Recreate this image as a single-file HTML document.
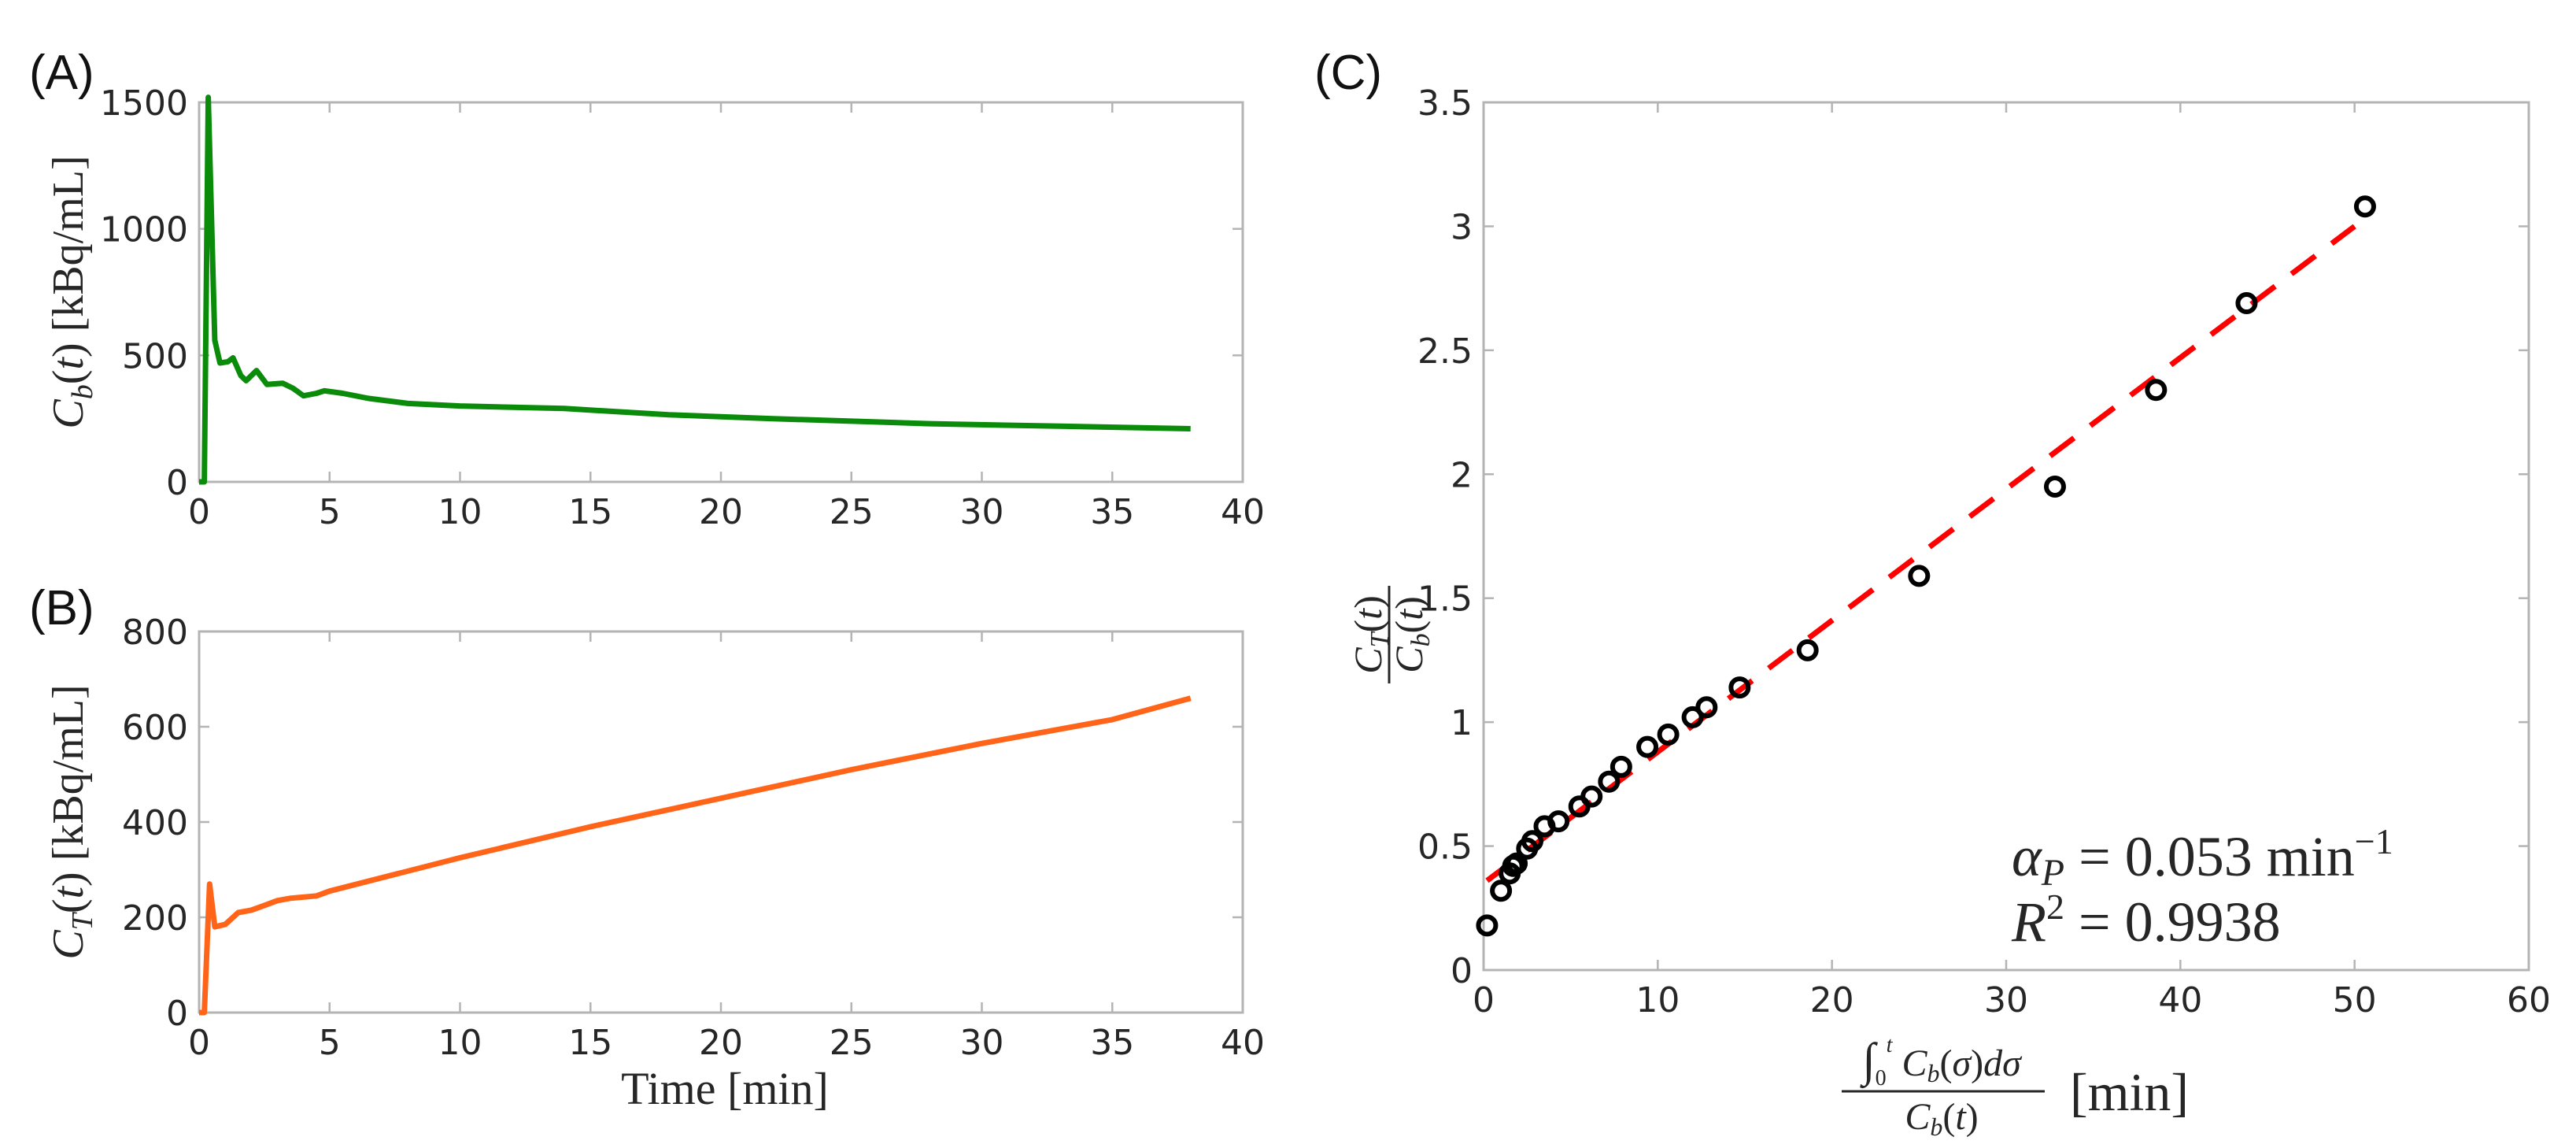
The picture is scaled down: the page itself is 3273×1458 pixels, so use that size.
<!DOCTYPE html>
<html><head><meta charset="utf-8"><style>
html,body{margin:0;padding:0;background:#fff;}
svg{display:block;}
.tick{font-family:"DejaVu Sans","Liberation Sans",sans-serif;font-size:44px;fill:#262626;}
.serif{font-family:"Liberation Serif","DejaVu Serif",serif;fill:#262626;}
.plab{font-family:"Liberation Sans",sans-serif;font-size:62px;fill:#111;}
</style></head><body>
<svg id="fig" width="3273" height="1458" viewBox="0 0 3273 1458" xmlns="http://www.w3.org/2000/svg">
<text class="plab" x="37" y="113">(A)</text>
<text class="plab" x="37" y="793">(B)</text>
<text class="plab" x="1670" y="113">(C)</text>
<g id="pa"></g><g id="pb"></g><g id="pc"></g>
<text class="serif" transform="translate(105,371) rotate(-90)" text-anchor="middle" font-size="56"><tspan font-style="italic">C</tspan><tspan font-style="italic" font-size="38" dy="12">b</tspan><tspan dy="-12">(</tspan><tspan font-style="italic">t</tspan><tspan>)  [kBq/mL]</tspan></text>
<text class="serif" transform="translate(105,1044) rotate(-90)" text-anchor="middle" font-size="56"><tspan font-style="italic">C</tspan><tspan font-style="italic" font-size="38" dy="12">T</tspan><tspan dy="-12">(</tspan><tspan font-style="italic">t</tspan><tspan>)  [kBq/mL]</tspan></text>
<text class="serif" x="921" y="1402" text-anchor="middle" font-size="58">Time [min]</text>
<g transform="translate(1765,806) rotate(-90)">
<text class="serif" x="0" y="-10" text-anchor="middle" font-size="50"><tspan font-style="italic">C</tspan><tspan font-style="italic" font-size="34" dy="9">T</tspan><tspan dy="-9">(</tspan><tspan font-style="italic">t</tspan>)</text>
<line x1="-62" y1="0" x2="62" y2="0" stroke="#262626" stroke-width="3"/>
<text class="serif" x="0" y="42" text-anchor="middle" font-size="50"><tspan font-style="italic">C</tspan><tspan font-style="italic" font-size="34" dy="9">b</tspan><tspan dy="-9">(</tspan><tspan font-style="italic">t</tspan>)</text>
</g>
<g>
<text class="serif" x="2467" y="1366" text-anchor="middle" font-size="48"><tspan font-size="60">∫</tspan><tspan font-size="28" dy="12">0</tspan><tspan font-size="28" font-style="italic" dy="-42">t</tspan><tspan dy="30"> </tspan><tspan font-style="italic">C</tspan><tspan font-style="italic" font-size="32" dy="8">b</tspan><tspan dy="-8">(</tspan><tspan font-style="italic">σ</tspan><tspan>)</tspan><tspan font-style="italic">dσ</tspan></text>
<line x1="2340" y1="1386" x2="2598" y2="1386" stroke="#262626" stroke-width="3"/>
<text class="serif" x="2467" y="1434" text-anchor="middle" font-size="48"><tspan font-style="italic">C</tspan><tspan font-style="italic" font-size="32" dy="8">b</tspan><tspan dy="-8">(</tspan><tspan font-style="italic">t</tspan>)</text>
<text class="serif" x="2630" y="1410" font-size="68">[min]</text>
</g>
<text class="serif" x="2556" y="1112" font-size="72"><tspan font-style="italic">α</tspan><tspan font-style="italic" font-size="48" dy="12">P</tspan><tspan dy="-12"> = 0.053 min</tspan><tspan font-size="46" dy="-28">−1</tspan></text>
<text class="serif" x="2556" y="1195" font-size="72"><tspan font-style="italic">R</tspan><tspan font-size="46" dy="-28">2</tspan><tspan dy="28"> = 0.9938</tspan></text>
</svg>
<script>
var timeA = [0,0.2,0.35,0.6,0.8,1.1,1.3,1.6,1.8,2.2,2.6,3.2,3.6,4,4.5,4.8,5.5,6.5,8,10,14,18,22,28,33,38];
var cbVals = [0,0,1520,560,470,475,490,420,400,440,385,390,370,340,350,360,350,330,310,300,290,265,250,230,220,210];
var timeB = [0,0.2,0.4,0.6,1,1.5,2,2.5,3,3.5,4.5,5,10,15,20,25,30,35,38];
var ctVals = [0,0,270,180,185,210,215,225,235,240,245,255,325,390,450,510,565,615,660];
var timeTicks = [0,5,10,15,20,25,30,35,40];
var cbTicks = [0,500,1000,1500];
var ctTicks = [0,200,400,600,800];
var cX = [0.2,1,1.5,1.7,1.9,2.5,2.8,3.5,4.3,5.5,6.2,7.2,7.9,9.4,10.6,12.0,12.8,14.7,18.6,25,32.8,38.6,43.8,50.6];
var cY = [0.18,0.32,0.39,0.42,0.43,0.49,0.52,0.58,0.60,0.66,0.70,0.76,0.82,0.90,0.95,1.02,1.06,1.14,1.29,1.59,1.95,2.34,2.69,3.08];
var cXTicks = [0,10,20,30,40,50,60];
var cYTicks = [0,0.5,1,1.5,2,2.5,3,3.5];
var fitSlope = 0.053;
var fitIntercept = 0.35;
var fitRange = [0.2,50];

var NS='http://www.w3.org/2000/svg';
function mk(tag,attrs,parent){var e=document.createElementNS(NS,tag);for(var k in attrs)e.setAttribute(k,attrs[k]);parent.appendChild(e);return e;}
function axes(g,L,R,T,B,xmin,xmax,ymin,ymax,xt,yt,name){
  var sx=function(v){return L+(v-xmin)/(xmax-xmin)*(R-L);};
  var sy=function(v){return B-(v-ymin)/(ymax-ymin)*(B-T);};
  var box=mk('rect',{x:L,y:T,width:R-L,height:B-T,fill:'none',stroke:'#b4b4b4','stroke-width':3},g);
  
  
  xt.forEach(function(v){
    var x=sx(v);
    mk('line',{x1:x,y1:B,x2:x,y2:B-13,stroke:'#b4b4b4','stroke-width':2.5},g);
    mk('line',{x1:x,y1:T,x2:x,y2:T+13,stroke:'#b4b4b4','stroke-width':2.5},g);
    var t=mk('text',{x:x,y:B+53,'text-anchor':'middle','class':'tick'},g);t.textContent=String(v);
    
    
  });
  yt.forEach(function(v){
    var y=sy(v);
    mk('line',{x1:L,y1:y,x2:L+13,y2:y,stroke:'#b4b4b4','stroke-width':2.5},g);
    mk('line',{x1:R,y1:y,x2:R-13,y2:y,stroke:'#b4b4b4','stroke-width':2.5},g);
    var t=mk('text',{x:L-14,y:y+16,'text-anchor':'end','class':'tick'},g);t.textContent=String(v);
    
    
  });
  return {sx:sx,sy:sy};
}
function line(g,xs,ys,s,color,name){
  var d=xs.map(function(x,i){return (i?'L':'M')+s.sx(x).toFixed(1)+','+s.sy(ys[i]).toFixed(1);}).join('');
  var p=mk('path',{d:d,fill:'none',stroke:color,'stroke-width':7,'stroke-linejoin':'round'},g);
  
  
}
var sa=axes(document.getElementById('pa'),253,1579,130,612,0,40,0,1500,timeTicks,cbTicks,'panel-a');
line(document.getElementById('pa'),timeA,cbVals,sa,'#0a8c0a','cb-line');
var sb=axes(document.getElementById('pb'),253,1579,802,1286,0,40,0,800,timeTicks,ctTicks,'panel-b');
line(document.getElementById('pb'),timeB,ctVals,sb,'#ff6418','ct-line');
var gc=document.getElementById('pc');
var sc=axes(gc,1885,3213,130,1232,0,60,0,3.5,cXTicks,cYTicks,'panel-c');
var fl=mk('line',{x1:sc.sx(fitRange[0]),y1:sc.sy(fitIntercept+fitSlope*fitRange[0]),x2:sc.sx(fitRange[1]),y2:sc.sy(fitIntercept+fitSlope*fitRange[1]),stroke:'#ff0000','stroke-width':7,'stroke-dasharray':'38,26'},gc);


cX.forEach(function(x,i){
  var c=mk('circle',{cx:sc.sx(x),cy:sc.sy(cY[i]),r:11,fill:'none',stroke:'#000','stroke-width':6},gc);
  
  
});
</script>
</body></html>
